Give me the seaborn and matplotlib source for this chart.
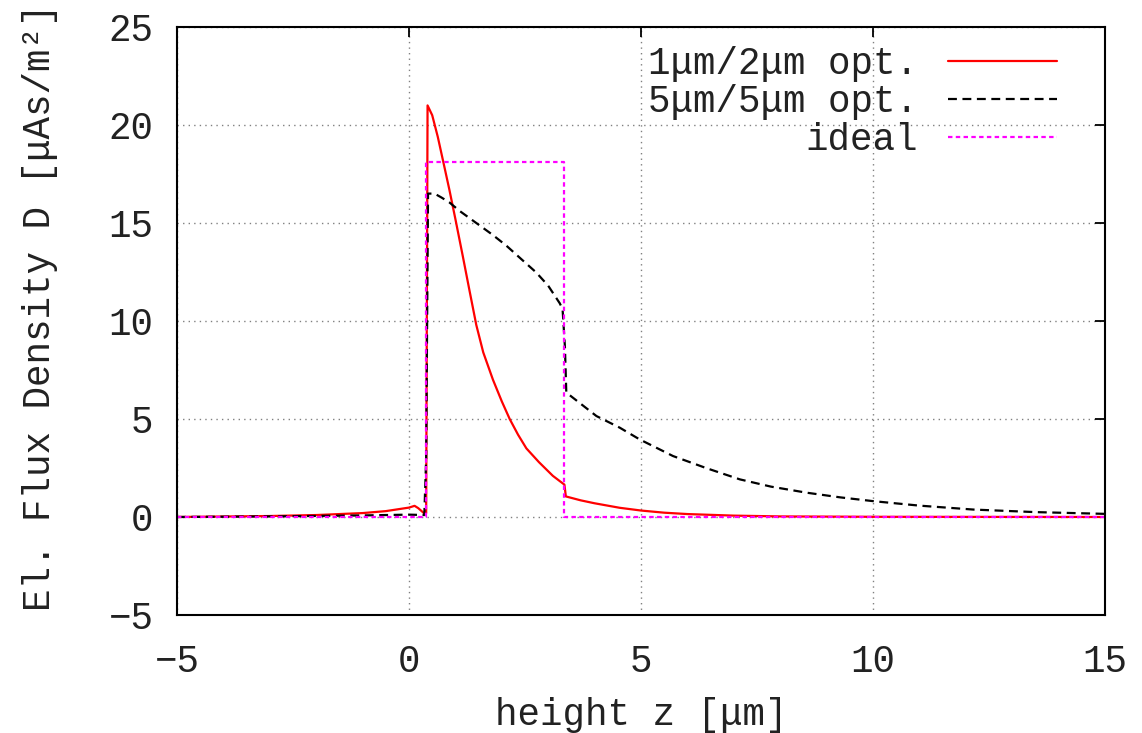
import numpy as np
import pandas as pd
import matplotlib
matplotlib.use('Agg')
import matplotlib.pyplot as plt
import seaborn as sns

# Values
z_opt12 = [-5, -3, -2, -1, -0.5, 0.0, 0.12, 0.2, 0.33, 0.37, 0.40, 0.5, 0.62, 0.75, 0.87, 1.0,
           1.16, 1.3, 1.45, 1.6, 1.81, 2.0, 2.17, 2.35, 2.53, 2.8, 3.1, 3.35, 3.38, 3.7, 4.0,
           4.54, 5.0, 5.5, 6.0, 7.0, 8.0, 10.0, 15.0]
d_opt12 = [0.0, 0.05, 0.1, 0.2, 0.3, 0.48, 0.57, 0.45, 0.18, 0.2, 21.0, 20.5, 19.4, 18.0, 16.7, 15.2,
           13.3, 11.6, 9.8, 8.4, 7.0, 5.9, 5.0, 4.2, 3.5, 2.8, 2.1, 1.65, 1.05, 0.85, 0.7,
           0.47, 0.33, 0.22, 0.15, 0.07, 0.03, 0.01, 0.0]

z_opt55 = [-5, -3, -1, 0.0, 0.33, 0.37, 0.41, 0.55, 0.7, 0.87, 1.1, 1.45, 1.8, 2.1, 2.4, 2.74,
           3.0, 3.25, 3.31, 3.36, 3.39, 4.04, 4.54, 4.97, 5.69, 6.4, 7.13, 7.8, 8.57, 9.3,
           10.0, 11.0, 12.16, 13.5, 15.0]
d_opt55 = [0.0, 0.03, 0.08, 0.12, 0.1, 3.0, 16.5, 16.5, 16.3, 16.05, 15.6, 15.0, 14.4, 13.84, 13.2, 12.48,
           11.8, 10.9, 10.6, 8.7, 6.35, 5.15, 4.56, 3.96, 3.11, 2.5, 1.92, 1.55, 1.24, 1.0,
           0.81, 0.58, 0.38, 0.25, 0.16]

z_ideal = [-5, 0.37, 0.37, 3.35, 3.35, 15]
d_ideal = [0, 0, 18.1, 18.1, 0, 0]

labels = ['1\u03bcm/2\u03bcm opt.', '5\u03bcm/5\u03bcm opt.', 'ideal']

sns.set_style('white')
plt.rcParams['font.family'] = ['Liberation Mono', 'DejaVu Sans Mono']
plt.rcParams['font.size'] = 27

fig = plt.figure(figsize=(11.42, 7.33), dpi=100)
ax = fig.add_axes([177 / 1142, 1 - 615 / 733, 928 / 1142, 588 / 733])

sns.lineplot(x=z_opt12, y=d_opt12, ax=ax, sort=False, estimator=None,
             color='#ff0000', linewidth=1.6, label=labels[0])
sns.lineplot(x=z_opt55, y=d_opt55, ax=ax, sort=False, estimator=None,
             color='black', linewidth=1.6, dashes=False, label=labels[1])
ax.lines[-1].set_dashes([4, 2.5])
sns.lineplot(x=z_ideal, y=d_ideal, ax=ax, sort=False, estimator=None,
             color='#ff00ff', linewidth=1.6, label=labels[2])
ax.lines[-1].set_dashes([2, 1.5])

ax.set_xlim(-5, 15)
ax.set_ylim(-5, 25)
ax.set_xticks([-5, 0, 5, 10, 15])
ax.set_yticks([-5, 0, 5, 10, 15, 20, 25])
ax.grid(True, color='#808080', linestyle=(0, (1, 3)), linewidth=1.0)
ax.set_axisbelow(True)
for s in ax.spines.values():
    s.set_color('black')
    s.set_linewidth(1.5)
ax.tick_params(direction='in', length=7, width=1.3, top=True, right=True,
               labelsize=27, colors='black')
ax.tick_params(axis='x', pad=21)
ax.tick_params(axis='y', pad=17)
for lab in ax.get_xticklabels() + ax.get_yticklabels():
    lab.set_color('#222222')

ax.set_xlabel('height z [\u03bcm]', fontsize=27, labelpad=12, color='#222222')
ax.set_ylabel('El. Flux Density D [\u03bcAs/m\u00b2]', fontsize=27, labelpad=36, color='#222222')
ax.yaxis.label.set_y(0.524)

leg = ax.legend(loc='upper right', bbox_to_anchor=((1057 - 177) / 928, 1 - (46 - 27) / 588),
                frameon=False, markerfirst=False, fontsize=27, borderpad=0,
                borderaxespad=0, labelspacing=0.05, handlelength=2.9, handletextpad=0.8)
for t in leg.get_texts():
    t.set_color('#222222')

fig.savefig('out.png', dpi=100)
